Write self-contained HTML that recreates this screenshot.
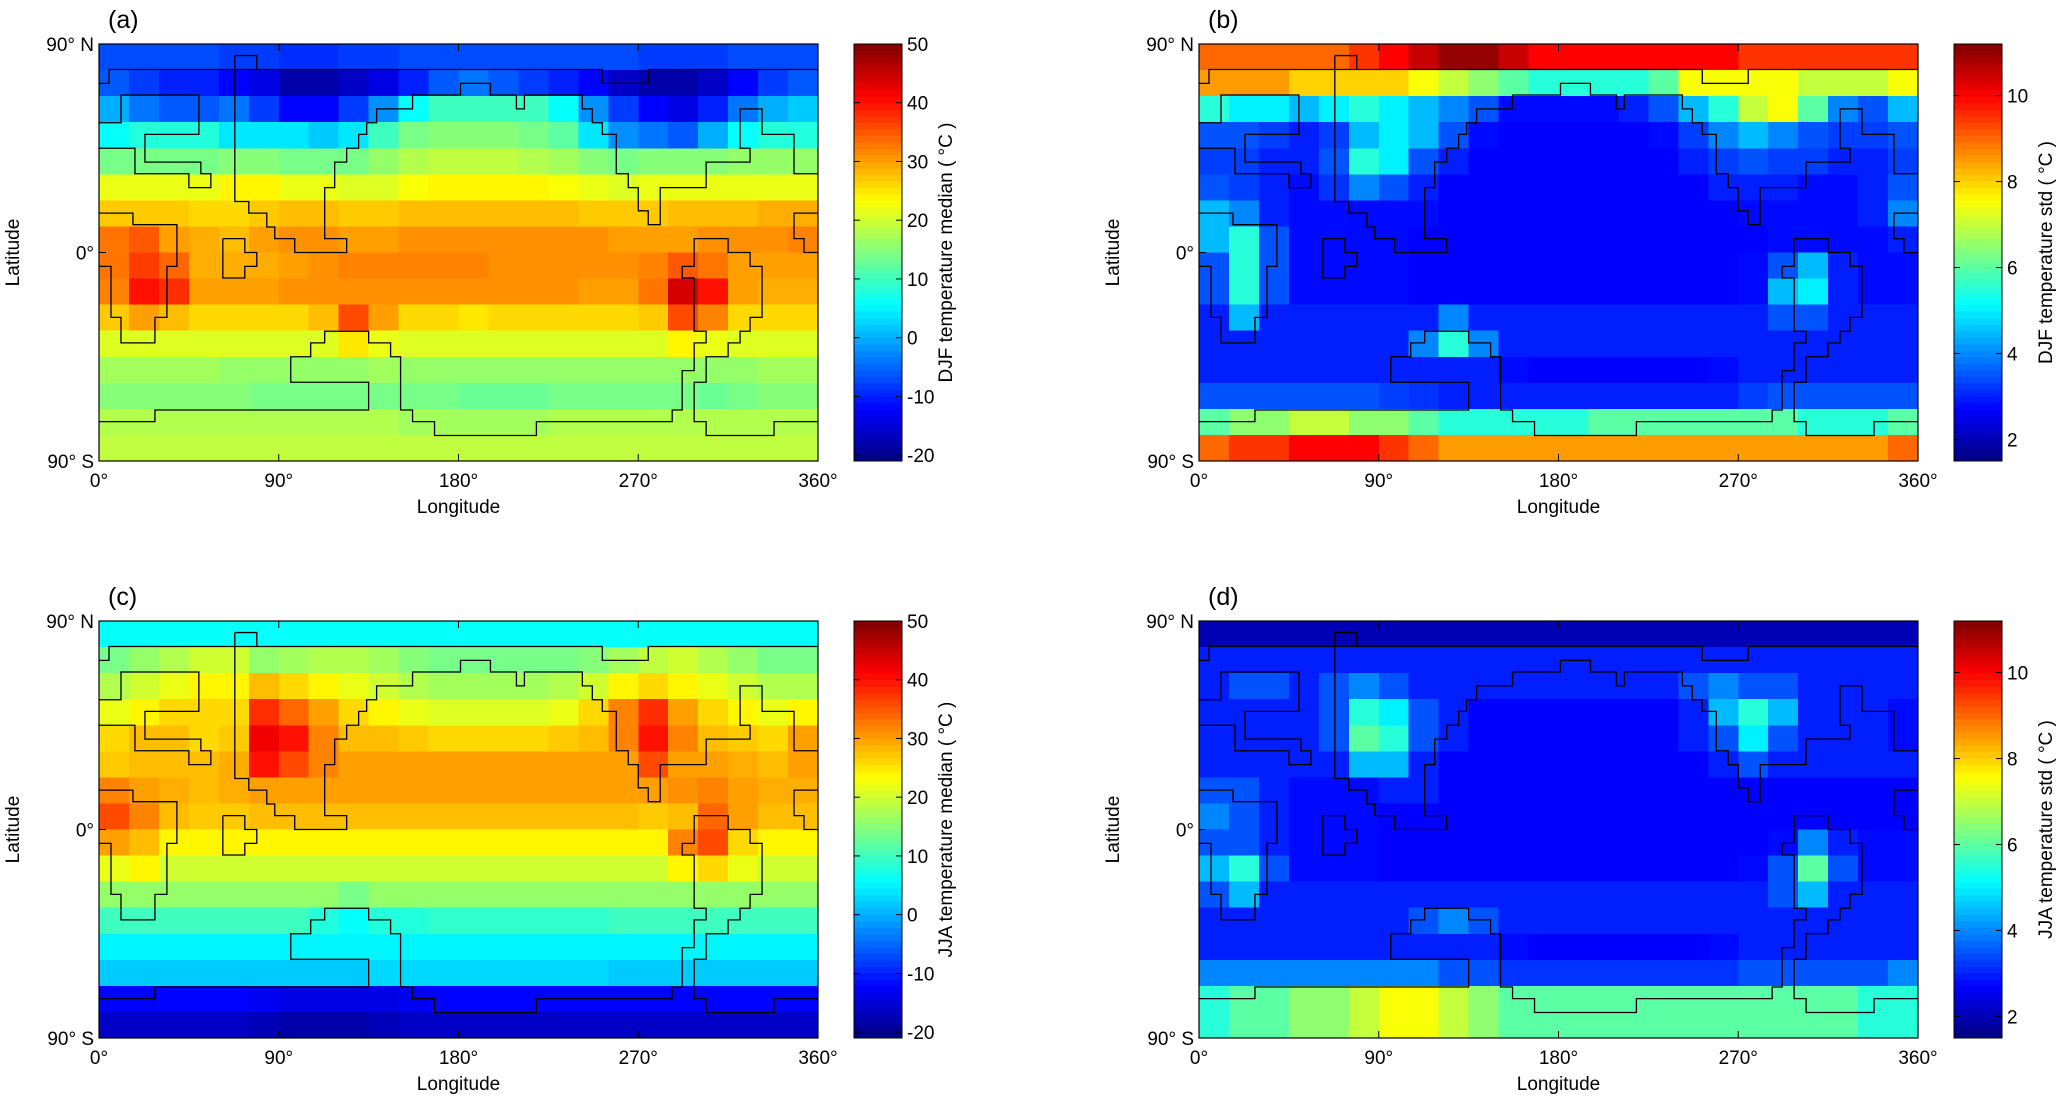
<!DOCTYPE html>
<html><head><meta charset="utf-8"><style>
html,body{margin:0;padding:0;background:#fff;}
svg{display:block;font-family:"Liberation Sans",Arial,sans-serif;}
</style></head><body>
<svg id="fig" width="2067" height="1098" viewBox="0 0 2067 1098"></svg>
<script>
// ---- data (rows north->south, 24 columns of 15° longitude, 16 rows of 11.25° latitude) ----
const lonTicks = [0, 90, 180, 270, 360];
const lonTickLabels = ["0°", "90°", "180°", "270°", "360°"];
const latTicks = [90, 0, -90];
const latTickLabels = ["90° N", "0°", "90° S"];
const tempTicks = [50, 40, 30, 20, 10, 0, -10, -20];
const stdTicks = [10, 8, 6, 4, 2];

const djfMedian = [
[-7,-7,-7,-7,-8,-8,-9,-9,-8,-8,-7,-7,-7,-7,-7,-7,-7,-7,-8,-8,-8,-7,-7,-7],
[-6,-8,-10,-10,-12,-14,-18,-18,-16,-14,-10,-6,-4,-6,-8,-10,-12,-16,-18,-18,-16,-12,-8,-6],
[0,-4,-6,-6,-4,-8,-12,-12,-8,-2,6,10,10,10,10,6,-2,-8,-12,-14,-10,-4,0,2],
[6,8,8,8,4,4,4,2,4,10,14,15,15,15,14,12,4,-2,-4,-6,0,6,8,8],
[14,14,14,14,15,15,14,14,14,16,18,19,19,19,18,17,15,14,15,15,15,16,16,16],
[22,22,22,22,24,24,22,22,21,21,23,24,24,24,24,23,22,21,22,22,22,22,22,22],
[27,27,27,26,26,27,28,28,27,27,28,28,28,28,28,28,27,27,27,28,28,28,29,29],
[33,35,30,29,28,30,31,31,30,30,31,31,31,31,31,31,31,30,30,30,31,31,31,32],
[33,37,34,29,29,29,30,31,32,32,32,32,32,31,31,31,31,31,32,35,33,30,30,30],
[32,40,38,30,30,30,31,31,31,31,31,31,31,31,31,31,30,30,33,44,40,30,29,29],
[27,30,28,26,26,26,26,28,36,30,26,26,25,26,26,26,26,26,27,36,32,26,26,26],
[21,21,21,21,21,21,21,21,25,22,21,21,21,21,21,21,21,21,21,24,22,21,21,21],
[17,17,17,17,16,16,16,16,16,17,16,16,16,16,16,16,16,16,16,16,16,16,17,17],
[15,15,15,15,15,14,14,14,14,14,14,14,13,13,13,14,14,14,14,14,13,14,15,15],
[18,18,18,18,18,18,18,18,18,18,17,17,17,17,17,18,18,18,18,18,18,18,18,18],
[19,19,19,19,19,19,19,19,19,19,19,19,19,19,19,19,19,19,19,19,19,19,19,19]];

const djfStd = [
[9,9,9,9,9,9.5,10,10.5,11,11,10.5,10,10,10,10,10,10,10,9.5,9.5,9.5,9.5,9.5,9.5],
[8.5,8.5,8.5,8,8,8,8,7.5,7,6.5,6,5.5,5.5,5.5,5.5,6,7.5,7.5,7.5,7.5,7,7,7,7.5],
[5.5,5,5,4.5,5,5.5,5,4.5,4,3.5,2.8,2.8,2.8,2.8,3,3.5,4.5,5.5,7,7.5,6,4,3.5,4.5],
[3.5,3.5,3.3,3,3.3,4.5,5,4.5,3.5,2.8,2.7,2.7,2.7,2.7,2.7,2.8,3.3,4,4.5,4,3.5,3.3,3.3,3.5],
[3.3,3.3,3,3,3.5,5.5,5,3.5,3,2.7,2.7,2.7,2.7,2.7,2.7,2.7,3,3.3,3.5,3.3,3.3,3,3,3.3],
[3.5,3.3,3,2.8,3.2,4,3.5,3,2.7,2.7,2.7,2.7,2.7,2.7,2.7,2.7,2.7,3,3,3,2.8,2.8,3,3.5],
[4.5,4,3,2.8,2.8,2.8,2.8,2.8,2.7,2.7,2.7,2.7,2.7,2.7,2.7,2.7,2.7,2.7,2.8,2.8,2.8,2.8,3,4],
[4.5,5.5,3.5,2.8,2.8,2.8,2.8,2.7,2.7,2.7,2.7,2.7,2.7,2.7,2.7,2.7,2.7,2.7,2.7,2.8,2.8,2.8,2.8,3],
[3.5,5.5,3.5,2.8,2.8,2.8,2.8,2.7,2.7,2.7,2.7,2.7,2.7,2.7,2.7,2.7,2.7,2.7,2.8,3.5,4.5,3,2.8,2.8],
[3.5,5.5,3.5,2.8,2.8,2.8,2.8,2.7,2.7,2.7,2.7,2.7,2.7,2.7,2.7,2.7,2.7,2.7,2.8,4.5,5,3,2.8,2.8],
[3,4.5,3,3,3,3,3,3,4,3,3,3,3,3,3,3,3,3,3,3.5,3.5,3,3,3],
[3,3,3,3,3,3,3,4,5.5,4,3,3,3,3,3,3,3,3,3,3,3,3,3,3],
[3,3,3,3,3,3,3,3,3,3,2.8,2.7,2.7,2.7,2.7,2.7,2.7,2.8,3,3,3,3,3,3],
[3.5,3.5,3.5,3.5,3.5,3.5,3.3,3.2,3,3,3,3,3,3,3,3,3,3,3.3,3.5,3.5,3.5,3.5,3.5],
[6,6.5,6.5,7,7,6.5,6.5,6,5.5,5.5,5.5,5.5,5.5,6,6,6,6,6,6,6,5.5,5.5,5.5,6],
[9,9.5,9.5,10,10,10,9.5,9,8.5,8.5,8.5,8.5,8.5,8.5,8.5,8.5,8.5,8.5,8.5,8.5,8.5,8.5,8.5,9]];

const jjaMedian = [
[6,6,6,6,6,6,6,6,6,6,6,6,6,6,6,6,6,6,6,6,6,6,6,6],
[14,16,18,20,20,16,17,18,18,17,15,14,14,14,14,14,15,17,19,20,18,16,14,14],
[18,20,22,24,24,28,26,24,22,20,18,17,17,17,17,18,20,24,26,24,22,20,18,18],
[22,24,26,26,26,38,34,30,26,24,22,21,21,21,21,22,26,32,38,30,26,24,22,24],
[26,28,28,26,27,42,40,32,28,28,27,26,26,26,26,27,28,32,40,32,28,27,26,30],
[27,28,28,28,29,40,36,32,30,30,30,30,30,30,30,30,30,30,36,30,30,29,28,30],
[32,30,29,28,29,30,30,30,30,30,30,30,30,30,30,30,30,30,30,31,32,30,29,29],
[36,32,28,27,27,28,28,28,28,28,28,28,28,28,28,28,28,28,27,28,34,30,28,28],
[30,28,24,24,24,24,24,24,24,24,24,24,24,24,24,24,24,24,24,32,36,26,24,24],
[22,24,20,20,20,20,20,20,20,20,20,20,20,20,20,20,20,20,20,24,26,22,20,20],
[16,16,16,16,16,16,16,16,14,16,16,16,16,16,16,16,16,16,16,16,16,16,16,16],
[10,10,10,10,10,10,10,8,6,8,8,9,9,9,9,9,9,10,10,10,10,10,10,10],
[5,5,5,5,5,5,5,5,5,5,5,5,5,5,5,5,5,5,5,5,5,5,5,5],
[2,2,2,2,2,2,2,2,2,3,3,3,3,3,3,3,3,2,2,2,2,2,2,2],
[-12,-12,-12,-12,-12,-13,-14,-14,-14,-14,-13,-12,-12,-12,-12,-12,-12,-12,-12,-12,-12,-12,-12,-12],
[-16,-16,-16,-16,-16,-17,-18,-18,-18,-17,-16,-16,-16,-16,-16,-16,-16,-16,-16,-16,-16,-16,-16,-16]];

const jjaStd = [
[2,2,2,2,2,2,2,2,2,2,2,2,2,2,2,2,2,2,2,2,2,2,2,2],
[3,3,3,3,3,3,3,3,3,3,3,3,3,3,3,3,3,3,3,3,3,3,3,3],
[3,3.5,3.5,3,3.5,4,3.5,3,3,3,3,3,3,3,3,3,3.5,4,3.5,3.5,3,3,3,3],
[3,3,3,3,3.5,5.5,5,3.5,3,2.7,2.7,2.7,2.7,2.7,2.7,2.7,3,4.5,5.5,4.5,3,3,3,2.8],
[3,3,3,3,3.5,6,5.5,3.5,3,2.7,2.7,2.7,2.7,2.7,2.7,2.7,3,3.5,5,3.5,3,3,3,2.8],
[3,3,3,3,3,4.5,4.5,3,2.7,2.7,2.7,2.7,2.7,2.7,2.7,2.7,2.7,3,3.5,3,3,3,3,3],
[3.5,3.5,3,2.8,2.8,2.8,3,3,2.7,2.7,2.7,2.7,2.7,2.7,2.7,2.7,2.7,2.7,2.7,2.7,2.7,2.7,2.7,2.7],
[4,3.5,3,2.8,2.8,2.8,2.7,2.7,2.7,2.7,2.7,2.7,2.7,2.7,2.7,2.7,2.7,2.7,2.7,2.7,2.7,2.7,2.7,2.7],
[3.5,3.5,3,2.8,2.8,2.8,2.7,2.7,2.7,2.7,2.7,2.7,2.7,2.7,2.7,2.7,2.7,2.7,2.7,2.8,4,3,2.8,2.8],
[4.5,5.5,3.5,2.8,2.8,2.8,2.7,2.7,2.7,2.7,2.7,2.7,2.7,2.7,2.7,2.7,2.7,2.7,2.8,3.5,6,3.5,2.8,2.8],
[3.5,4.5,3,3,3,3,3,3,3,3,3,3,3,3,3,3,3,3,3,3.5,4.5,3,3,3],
[3,3,3,3,3,3,3,3.5,4,3.5,3,3,3,3,3,3,3,3,3,3,3,3,3,3],
[3,3,3,3,3,3,3,3,3,3,2.8,2.7,2.7,2.7,2.7,2.7,2.7,2.8,3,3,3,3,3,3],
[4,4,4,4,4,4,4,4,3.5,3.5,3.2,3.2,3.2,3.2,3.2,3.2,3.2,3.2,3.5,3.5,3.5,3.5,3.5,4],
[5.5,6,6,6.5,6.5,7,7.5,7.5,7,6.5,6,6,6,6,6,6,6,6,6,6,6,6,5.5,5.5],
[5.5,6,6,6.5,6.5,7,7.5,7.5,7,6.5,6,6,6,6,6,6,6,6,6,6,6,6,5.5,5.5]];

// continent outlines (lon, lat)
const coastNorth = [[0,73],[5,73],[5,79],[252,79],[252,73],[275,73],[275,79],[360,79]];
const coastSiberia = [[68,85],[79,85],[79,79]];
const coastAsiaWest = [[68,85],[68,22],[75,22],[75,17],[84,17],[84,11],[88,11],[88,6],[98,6],[98,0],[124,0],[124,6],[113,6],[113,28],[118,28],[118,39],[124,39],[124,45],[130,45],[130,51],[134,51],[134,56],[139,56],[139,62],[157,62],[157,68],[181,68],[181,73],[196,73],[196,68],[209,68],[209,62],[213,62],[213,68],[242,68],[242,62],[247,62],[247,56],[252,56],[252,51],[259,51],[259,34],[265,34],[265,28],[270,28],[270,18],[275,18],[275,12],[281,12],[281,28],[304,28],[304,39],[326,39],[326,45],[321,45],[321,62],[332,62],[332,51],[338,51],[338,51],[348,51],[348,34],[360,34]];
const coastEurope = [[0,56],[11,56],[11,68],[50,68],[50,51],[23,51],[23,39],[51,39],[51,34],[56,34],[56,28],[45,28],[45,34],[18,34],[18,45],[0,45]];
const coastAfrica = [[0,17],[17,17],[17,12],[39,12],[39,-6],[34,-6],[34,-28],[28,-28],[28,-39],[11,-39],[11,-28],[6,-28],[6,-6],[0,-6]];
const coastIsland = [[62,6],[73,6],[73,0],[79,0],[79,-6],[73,-6],[73,-11],[62,-11],[62,6]];
const coastGulf = [[360,17],[348,17],[348,6],[353,6],[353,0],[360,0]];
const coastSouth = [[0,-73],[28,-73],[28,-68],[135,-68],[135,-56],[96,-56],[96,-45],[106,-45],[106,-39],[113,-39],[113,-34],[135,-34],[135,-39],[146,-39],[146,-45],[151,-45],[151,-68],[157,-68],[157,-73],[168,-73],[168,-79],[219,-79],[219,-73],[287,-73],[287,-68],[292,-68],[292,-51],[298,-51],[298,-39],[304,-39],[304,-34],[298,-34],[298,-11],[292,-11],[292,-6],[298,-6],[298,6],[315,6],[315,0],[326,0],[326,-6],[332,-6],[332,-28],[326,-28],[326,-34],[321,-34],[321,-39],[315,-39],[315,-45],[304,-45],[304,-56],[298,-56],[298,-73],[304,-73],[304,-79],[338,-79],[338,-73],[360,-73]];
const coasts = [coastNorth, coastSiberia, coastAsiaWest, coastEurope, coastAfrica, coastIsland, coastGulf, coastSouth];

// ---- rendering ----
const NS = "http://www.w3.org/2000/svg";
const svg = document.getElementById("fig");
function mk(tag, attrs, parent){ const e=document.createElementNS(NS,tag); for(const k in attrs) e.setAttribute(k,attrs[k]); (parent||svg).appendChild(e); return e; }
function jet(t){
  t=Math.max(0,Math.min(1,t));
  const r=Math.max(0,Math.min(1,Math.min(4*t-1.5,-4*t+4.5)));
  const g=Math.max(0,Math.min(1,Math.min(4*t-0.5,-4*t+3.5)));
  const b=Math.max(0,Math.min(1,Math.min(4*t+0.5,-4*t+2.5)));
  return `rgb(${Math.round(r*255)},${Math.round(g*255)},${Math.round(b*255)})`;
}
const PW=719, PH=417;
function panel(key, ox, oy, data, vmin, vmax, ticks, cblabel){
  const g = mk("g",{});
  
  
  const xs = lon => ox + lon/360*PW;
  const ys = lat => oy + (90-lat)/180*PH;
  const rows=data.length, cols=data[0].length;
  const hm = mk("g",{"shape-rendering":"crispEdges"},g);
  
  
  for(let r=0;r<rows;r++) for(let c=0;c<cols;c++){
    const lon0=c*360/cols, lon1=(c+1)*360/cols, lat0=90-r*180/rows, lat1=90-(r+1)*180/rows;
    const x0=xs(lon0), x1=xs(lon1), y0=ys(lat0), y1=ys(lat1);
    const cell = mk("rect",{x:x0,y:y0,width:x1-x0+0.6,height:y1-y0+0.6,fill:jet((data[r][c]-vmin)/(vmax-vmin))},hm);
    
    
  }
  coasts.forEach(cl=>{
    const p = mk("polyline",{points:cl.map(p=>xs(p[0])+","+ys(p[1])).join(" "),fill:"none",stroke:"#000","stroke-width":1.3},g);
    
    
  });
  mk("rect",{x:ox,y:oy,width:PW,height:PH,fill:"none",stroke:"#000","stroke-width":1.2},g);
  lonTicks.forEach((v,i)=>{
    const x=xs(v);
    mk("line",{x1:x,y1:oy+PH,x2:x,y2:oy+PH-7,stroke:"#000"},g);
    mk("line",{x1:x,y1:oy,x2:x,y2:oy+7,stroke:"#000"},g);
    const t=mk("text",{x:x,y:oy+PH+26,"font-size":19,"text-anchor":"middle"},g);
    t.textContent=lonTickLabels[i];
    
    
  });
  latTicks.forEach((v,i)=>{
    const y=ys(v);
    mk("line",{x1:ox,y1:y,x2:ox+7,y2:y,stroke:"#000"},g);
    mk("line",{x1:ox+PW,y1:y,x2:ox+PW-7,y2:y,stroke:"#000"},g);
    const t=mk("text",{x:ox-5,y:y+7,"font-size":19,"text-anchor":"end"},g);
    t.textContent=latTickLabels[i];
    
    
  });
  const xt=mk("text",{x:ox+PW/2,y:oy+PH+52,"font-size":19,"text-anchor":"middle"},g);
  xt.textContent="Longitude";
  
  
  const yt=mk("text",{x:0,y:0,"font-size":19,"text-anchor":"middle",transform:`translate(${ox-80},${oy+PH/2}) rotate(-90)`},g);
  yt.textContent="Latitude";
  
  
  const tt=mk("text",{x:ox+9,y:oy-16,"font-size":25},g);
  tt.textContent="("+key+")";
  
  
  // colorbar
  const cx=ox+755, cw=48;
  const cb=mk("g",{"shape-rendering":"crispEdges"},g);
  
  
  const N=64;
  for(let i=0;i<N;i++){
    mk("rect",{x:cx,y:oy+PH*(1-(i+1)/N),width:cw,height:PH/N+0.6,fill:jet((i+0.5)/N)},cb);
  }
  mk("rect",{x:cx,y:oy,width:cw,height:PH,fill:"none",stroke:"#000","stroke-width":1},g);
  ticks.forEach(v=>{
    const y=oy+PH*(1-(v-vmin)/(vmax-vmin));
    mk("line",{x1:cx+cw-6,y1:y,x2:cx+cw,y2:y,stroke:"#000"},g);
    mk("line",{x1:cx,y1:y,x2:cx+6,y2:y,stroke:"#000"},g);
    const t=mk("text",{x:cx+cw+5,y:y+7,"font-size":19},g);
    t.textContent=String(v);
    
    
  });
  const cl=mk("text",{x:0,y:0,"font-size":19,"text-anchor":"middle",transform:`translate(${cx+cw+50},${oy+PH/2}) rotate(-90)`},g);
  cl.textContent=cblabel;
  
  
}
panel("a", 99, 44, djfMedian, -21, 50, tempTicks, "DJF temperature median ( °C )");
panel("b", 1199, 44, djfStd, 1.5, 11.2, stdTicks, "DJF temperature std ( °C )");
panel("c", 99, 621, jjaMedian, -21, 50, tempTicks, "JJA temperature median ( °C )");
panel("d", 1199, 621, jjaStd, 1.5, 11.2, stdTicks, "JJA temperature std ( °C )");
</script>
</body></html>
